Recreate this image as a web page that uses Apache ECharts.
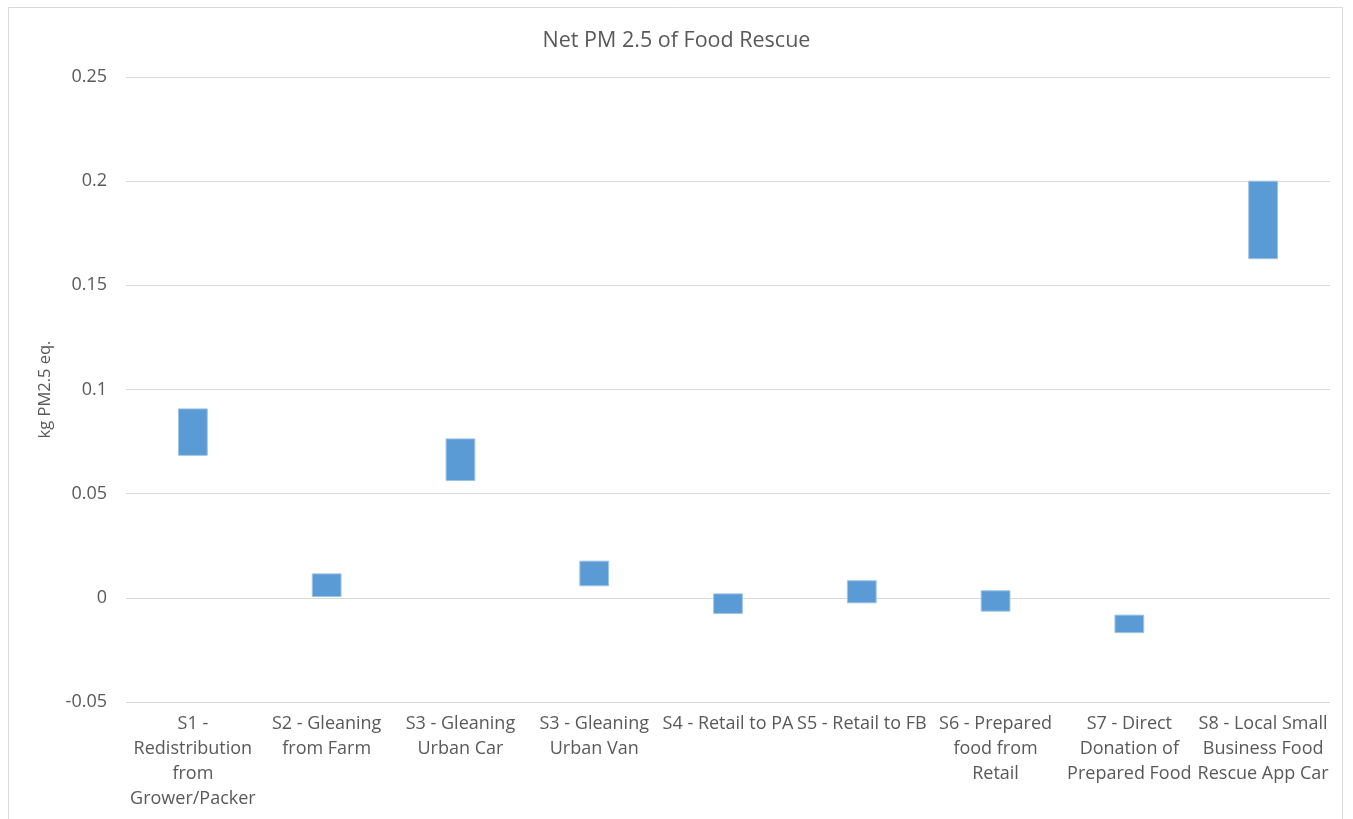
<!DOCTYPE html>
<html>
<head>
<meta charset="utf-8">
<script src="https://cdn.jsdelivr.net/npm/echarts@6/dist/echarts.min.js"></script>
<style>
html,body{margin:0;padding:0;background:#fff;}
#chart{width:1353px;height:819px;}
</style>
</head>
<body>
<div id="chart"></div>
<script>
// Data
var categories = [
  "S1 -\nRedistribution\nfrom\nGrower/Packer",
  "S2 - Gleaning\nfrom Farm",
  "S3 - Gleaning\nUrban Car",
  "S3 - Gleaning\nUrban Van",
  "S4 - Retail to PA",
  "S5 - Retail to FB",
  "S6 - Prepared\nfood from\nRetail",
  "S7 - Direct\nDonation of\nPrepared Food",
  "S8 - Local Small\nBusiness Food\nRescue App Car"
];
var lowValues  = [0.0684, 0.0006, 0.0563, 0.0058, -0.0075, -0.0024, -0.0064, -0.0167, 0.1628];
var highValues = [0.0907, 0.0115, 0.0763, 0.0176, 0.0019, 0.0082, 0.0034, -0.0083, 0.2000];
var yTicks = { min: -0.05, max: 0.25, interval: 0.05 };

var rangeData = categories.map(function (c, i) { return [i, lowValues[i], highValues[i]]; });

var chart = echarts.init(document.getElementById('chart'));
var textColor = '#595959';
var fontFam = '"Open Sans", "Noto Sans", sans-serif';
chart.setOption({
  animation: false,
  backgroundColor: '#fff',
  title: {
    text: 'Net PM 2.5 of Food Rescue',
    left: 'center',
    top: 25,
    textStyle: { color: textColor, fontSize: 21.5, fontWeight: 'normal', fontFamily: fontFam }
  },
  graphic: [{
    type: 'rect',
    shape: { x: 8.5, y: 7.5, width: 1334, height: 830 },
    style: { fill: null, stroke: '#d9d9d9', lineWidth: 1 },
    silent: true
  }],
  grid: { left: 126, right: 23, top: 77, bottom: 117 },
  xAxis: {
    type: 'category',
    data: categories,
    axisLine: { show: false },
    axisTick: { show: false },
    splitLine: { show: false },
    axisLabel: {
      interval: 0,
      color: textColor,
      fontSize: 18,
      fontFamily: fontFam,
      lineHeight: 25,
      margin: 9
    }
  },
  yAxis: {
    type: 'value',
    min: yTicks.min,
    max: yTicks.max,
    interval: yTicks.interval,
    name: 'kg PM2.5 eq.',
    nameLocation: 'middle',
    nameGap: 72,
    nameTextStyle: { color: textColor, fontSize: 16.5, fontFamily: fontFam },
    axisLine: { show: false },
    axisTick: { show: false },
    axisLabel: { color: textColor, fontSize: 18, fontFamily: fontFam, margin: 19 },
    splitLine: { lineStyle: { color: '#d9d9d9', width: 1 } }
  },
  series: [{
    type: 'custom',
    data: rangeData,
    encode: { x: 0, y: [1, 2] },
    renderItem: function (params, api) {
      var i = api.value(0);
      var p1 = api.coord([i, api.value(2)]);
      var p2 = api.coord([i, api.value(1)]);
      var w = api.size([1, 0])[0] * 0.215;
      return {
        type: 'rect',
        shape: { x: p1[0] - w / 2, y: p1[1], width: w, height: p2[1] - p1[1] },
        style: { fill: '#5b9bd5', stroke: '#9dc3e6', lineWidth: 1 }
      };
    }
  }]
});
</script>
</body>
</html>
